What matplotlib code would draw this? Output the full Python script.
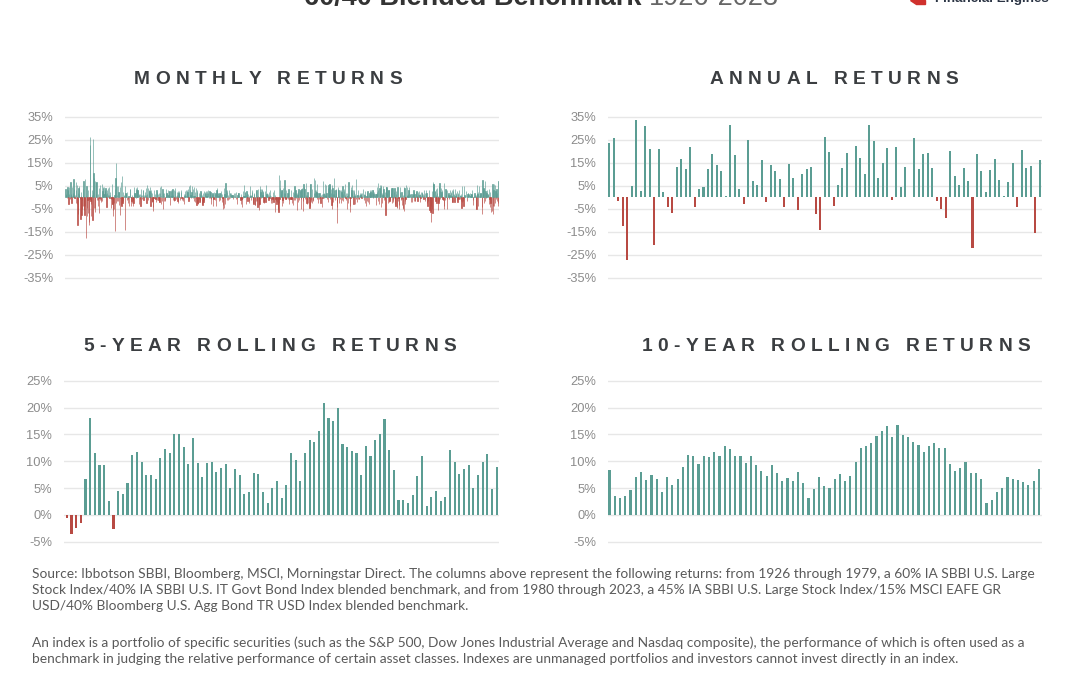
import matplotlib as mpl
mpl.use('Agg')
import matplotlib.pyplot as plt
from matplotlib.font_manager import FontProperties, findfont, get_font
from matplotlib.patches import Polygon
import numpy as np

TEAL = '#5b9d93'
RED = '#b84a43'
GRID = '#e7e7e7'
TICK = '#8c8c8c'
HEAD = '#3b3e41'

# monthly returns (%), one row per year 1927-2023, read/estimated from the chart
monthly_returns = [
    [0.0, 3.5, 0.9, 1.4, 3.8, -0.3, 4.5, 3.3, 3.2, -2.7, 4.6, 1.6],
    [-0.2, -0.9, 6.6, 1.4, 0.9, -2.3, 0.6, 4.5, 1.7, 1.0, 7.8, 0.5],
    [3.5, -0.1, -0.1, 1.2, -2.4, 6.6, 3.0, 5.5, -2.8, -11.8, -7.2, 1.8],
    [4.0, 1.6, 5.0, -0.3, -0.5, -9.6, 2.5, 0.6, -7.6, -5.0, -1.0, -3.6],
    [3.7, 7.0, -3.7, -5.7, -7.5, 8.1, -3.6, 0.5, -17.5, 5.1, -4.8, -8.0],
    [-1.0, 3.2, -6.6, -10.5, -11.9, -0.8, 22.8, 26.0, -1.4, -8.0, -2.7, 3.0],
    [0.9, -9.7, 2.4, 25.3, 10.7, 8.3, -4.5, 7.1, -6.4, -4.6, 6.7, 1.5],
    [6.6, -1.1, 0.3, -1.1, -3.8, 1.6, -6.6, 4.1, -0.1, -1.0, 5.4, 0.3],
    [-2.0, -1.2, -1.6, 6.0, 2.7, 4.0, 4.5, 1.6, 1.6, 4.7, 3.0, 2.8],
    [4.2, 1.6, 0.6, -4.4, 3.3, 2.0, 4.2, 0.9, 0.3, 4.6, 1.0, -0.1],
    [2.4, 1.1, -0.5, -4.7, -0.3, -2.8, 6.0, -2.8, -8.3, -5.7, -4.9, -2.5],
    [1.0, 3.6, -14.6, 8.6, -2.4, 14.9, 4.9, -1.5, 1.0, 4.8, -1.4, 2.5],
    [-3.4, 2.5, -7.5, -0.2, 4.4, -3.2, 6.5, -3.8, 9.2, -0.5, -2.3, 2.2],
    [-1.5, 0.8, 1.0, 0.1, -14.0, 4.8, 2.0, 2.0, 1.4, 2.2, -1.0, 0.3],
    [-2.3, -0.8, 0.7, -3.6, 0.7, 3.5, 3.5, 0.1, -0.4, -3.8, -1.6, -2.3],
    [1.0, -1.2, -3.6, -2.3, 4.7, 1.4, 2.1, 1.0, 1.7, 4.0, -0.2, 3.0],
    [4.4, 3.6, 3.3, 0.2, 3.3, 1.4, -2.9, 1.1, 1.5, -0.6, -3.6, 3.8],
    [1.0, 0.3, 1.2, -0.6, 3.2, 3.4, -1.0, 1.0, 0.1, 0.2, 0.9, 2.4],
    [1.1, 4.1, -2.5, 5.2, 1.3, 0.1, -1.0, 4.0, 3.0, 2.3, 2.7, 0.9],
    [4.3, -3.8, 3.2, 2.5, 1.9, -2.1, -1.4, -4.2, -5.9, -0.4, -0.1, 3.4],
    [1.6, -0.5, -0.8, -2.1, 0.1, 3.3, 2.3, -1.1, -0.4, 1.6, -1.0, 1.9],
    [-2.2, -2.2, 4.6, 1.9, 5.0, 0.4, -3.1, 0.3, -1.6, 3.7, -5.0, 2.0],
    [0.5, -1.6, 2.0, -1.0, -1.6, 0.2, 3.6, 1.6, 1.7, 1.8, 1.1, 3.0],
    [1.2, 1.0, 0.7, 2.8, 2.8, -3.2, 0.7, 2.8, 3.4, 0.5, 1.2, 3.0],
    [3.7, 1.0, -1.0, 3.0, -1.7, -1.3, 4.1, 2.8, 0.1, -0.9, 0.5, 2.4],
    [1.1, -1.8, 2.9, -2.5, 2.1, 2.8, 1.1, -0.4, -1.1, 0.1, 3.4, 2.2],
    [-0.4, -0.1, -1.2, -1.5, 0.1, -0.8, 1.6, -2.9, 0.6, 2.9, 1.6, 0.6],
    [3.3, 0.8, 2.3, 3.0, 2.4, 0.5, 3.5, -1.7, 5.0, -0.8, 5.3, 3.2],
    [1.0, 1.1, -0.1, 2.3, 0.4, 4.9, 3.6, -0.2, 0.7, -1.7, 4.5, 0.8],
    [-1.9, 2.4, 4.2, -0.1, -3.5, 2.3, 3.0, -2.3, -2.9, 0.2, -0.6, 2.1],
    [-2.1, -1.7, 1.3, 2.6, 2.5, 0.1, 1.0, -2.9, -3.4, -1.9, 1.9, -1.9],
    [2.8, -1.0, 1.9, 2.2, 1.4, 1.8, 2.6, 0.6, 2.9, 1.7, 1.8, 3.2],
    [0.3, 0.3, -0.1, 2.6, 1.3, -0.2, 2.2, -0.8, -2.9, 0.8, 1.3, 1.9],
    [-3.9, 1.3, -0.6, -0.8, 2.2, 1.6, -1.2, 1.8, -3.6, 0.2, 3.0, 3.1],
    [4.0, 2.0, 1.8, 0.4, 1.6, -1.6, 2.1, 1.7, -1.0, 1.9, 2.8, 0.1],
    [-2.2, 1.3, -0.1, -3.5, -4.9, -4.5, 4.0, 1.4, -2.7, 0.6, 6.3, 1.0],
    [3.2, -1.3, 2.3, 3.0, 1.2, -1.0, 0.0, 3.2, -0.5, 2.0, -0.4, 1.7],
    [1.7, 0.9, 1.0, 0.5, 1.1, 1.1, 1.2, -0.6, 1.9, 0.6, 0.2, 0.4],
    [2.1, 0.2, -0.8, 2.2, -0.2, -2.9, 1.0, 1.7, 2.1, 1.8, 0.0, 0.6],
    [0.3, -0.8, -1.1, 1.3, -2.8, -0.8, -0.8, -4.3, -0.3, 2.8, 0.6, 0.3],
    [5.5, 0.5, 2.5, 2.5, -2.7, 1.0, 2.8, -0.3, 2.0, -1.7, 0.3, 1.6],
    [-2.4, -1.6, 0.7, 5.0, 1.0, 0.8, -1.0, 1.1, 2.4, 0.8, 3.2, -2.6],
    [-0.6, -2.7, 1.9, 1.3, 0.0, -3.4, -3.5, 2.6, -1.7, 3.0, -1.8, -0.8],
    [-4.3, 3.8, 0.4, -5.3, -3.3, -2.9, 5.0, 3.5, 2.5, -0.4, 3.6, 3.8],
    [3.2, 1.0, 2.8, 2.3, -2.0, -0.2, -2.5, 2.9, -0.2, -2.0, 0.5, 5.3],
    [1.4, 1.9, 0.5, 0.5, 1.3, -1.2, 0.4, 2.4, -0.2, 0.9, 3.1, 0.8],
    [-1.1, -2.3, -0.1, -2.4, -0.7, -0.3, 2.3, -1.9, 3.0, 0.2, -6.2, 1.0],
    [-0.5, 0.0, -1.7, -2.8, -2.0, -0.7, -4.5, -5.5, -6.3, 9.5, -2.5, -0.7],
    [7.6, 4.0, 1.6, 2.7, 3.3, 3.3, -3.7, -1.2, -2.3, 4.2, 2.0, -0.4],
    [7.5, -0.3, 2.0, -0.5, -0.5, 3.0, -0.3, 0.8, 1.9, -0.8, 0.9, 3.5],
    [-2.8, -1.0, -0.6, 0.3, -0.6, 3.0, -0.7, -0.9, 0.1, -2.5, 2.4, 0.1],
    [-3.4, -1.1, 1.7, 4.9, 0.5, -1.1, 3.3, 2.1, -0.4, -5.5, 1.7, 1.0],
    [2.6, -2.0, 3.6, 0.2, -1.2, 2.8, 0.7, 3.2, -0.5, -5.2, 3.7, 1.2],
    [4.2, -1.7, -6.1, 5.7, 4.5, 2.9, 3.5, -0.8, 0.2, 1.0, 6.1, -2.5],
    [-2.7, 1.0, 2.5, -2.4, 0.6, -0.3, -0.3, -4.5, -3.8, 5.7, 5.6, -2.0],
    [-1.0, -2.5, 0.0, 3.5, -1.2, -1.5, 0.3, 8.2, 1.9, 7.4, 3.4, 1.8],
    [3.0, 2.3, 2.2, 5.6, -0.9, 2.1, -2.3, 0.7, 1.8, -0.8, 2.1, -0.1],
    [-0.2, -2.6, 0.9, 0.3, -4.0, 1.6, -0.4, 7.3, 0.3, 1.6, -0.2, 1.9],
    [5.8, 1.4, 0.5, 0.5, 5.2, 1.7, 0.2, -0.6, -2.2, 4.0, 5.3, 4.5],
    [0.9, 6.0, 5.4, -0.5, 3.7, 1.8, -3.4, 5.4, -5.0, 4.1, 1.6, -2.0],
    [8.4, 3.3, 1.5, -1.0, 0.4, 3.0, 3.5, 2.1, -2.5, -11.2, -4.0, 4.6],
    [3.8, 3.0, -2.3, 0.8, 0.2, 3.4, -0.5, -2.4, 3.2, 2.4, -1.0, 1.2],
    [4.9, -1.6, 1.6, 3.5, 2.7, 0.3, 6.0, 1.2, -0.2, -1.2, 1.7, 1.7],
    [-5.0, 0.7, 1.6, -2.4, 6.7, -0.3, -0.2, -6.3, -3.6, -0.2, 4.7, 2.2],
    [3.3, 5.4, 1.8, 0.5, 3.0, -3.1, 3.2, 2.2, 0.6, 1.3, -2.8, 7.9],
    [-0.8, 0.6, -2.0, 1.0, 1.2, -0.8, 3.4, -0.9, 1.1, -0.9, 1.8, 1.1],
    [0.9, 1.6, 1.7, -0.1, 1.9, 0.7, 0.1, 3.8, 0.0, 1.4, -1.1, 1.0],
    [2.8, -2.6, -3.6, 0.6, 0.6, -1.7, 2.3, 2.6, -2.1, 0.8, -2.8, 1.2],
    [1.9, 3.2, 2.5, 2.3, 3.1, 1.6, 2.5, 0.2, 3.1, -0.1, 3.0, 1.4],
    [2.2, 0.2, 0.4, 0.8, 1.4, 0.3, -3.2, 1.5, 4.4, 2.3, 6.3, -1.5],
    [3.2, 0.2, -2.9, 3.9, 5.3, 3.3, 5.3, -4.3, 5.0, -2.5, 2.0, 1.2],
    [1.4, 5.0, 3.6, 0.9, -1.0, 2.4, -0.6, -7.8, 4.3, 4.5, 4.6, 3.9],
    [2.0, -2.4, 3.0, 3.2, -1.9, 3.1, -1.5, -0.3, -1.2, 3.8, 1.9, 4.1],
    [-2.6, 0.4, 4.2, -2.0, -1.3, 2.4, -0.4, 4.2, -2.8, -0.7, -3.9, 1.6],
    [2.6, -4.6, -4.1, 4.7, 0.3, -1.5, -0.2, -3.2, -5.1, 2.2, 4.3, 0.5],
    [-1.0, -0.6, 2.3, -3.2, -0.5, -4.5, -5.2, 1.0, -5.8, 4.3, 4.0, -2.8],
    [-1.4, -0.6, 0.1, 5.4, 4.3, 1.2, 0.6, 1.5, 0.9, 3.3, 0.8, 4.3],
    [1.4, 1.5, 0.1, -2.0, 0.3, 1.4, -2.0, 0.6, 1.3, 1.5, 3.3, 2.4],
    [-1.5, 1.6, -1.4, -1.4, 2.3, 0.3, 2.6, 0.6, 0.8, -1.8, 2.4, 1.3],
    [2.8, 0.0, 1.2, 1.4, -2.2, -0.1, 0.6, 2.3, 1.7, 2.5, 2.0, 1.3],
    [0.8, -0.5, 1.0, 3.2, 2.0, -0.8, -1.4, 0.9, 3.2, 2.0, -2.5, -0.7],
    [-3.7, -1.5, -0.9, 3.3, 0.7, -5.4, -0.8, 0.3, -6.4, -10.9, -3.7, 2.9],
    [-5.1, -6.8, 5.6, 6.8, 5.9, 0.1, 5.7, 2.7, 2.7, -1.5, 3.6, 1.0],
    [-2.4, 1.8, 4.2, 0.6, -5.3, -2.5, 5.1, -1.7, 6.3, 2.6, -0.9, 4.1],
    [1.5, 2.3, 0.0, 3.3, -0.9, -1.2, -1.1, -3.7, -4.9, 6.4, -1.2, 0.4],
    [3.6, 3.2, 1.5, -0.5, -5.1, 3.2, 1.2, 1.6, 2.0, -0.5, 0.8, 1.2],
    [3.0, 0.6, 2.0, 2.3, 0.5, -2.2, 3.3, -2.2, 3.5, 2.9, 1.5, 1.2],
    [-2.1, 3.6, 0.2, 0.6, 1.7, 1.3, -1.3, 2.6, -2.1, 1.3, 1.7, -0.6],
    [0.2, 3.4, -0.9, 1.2, 0.4, -1.8, 1.3, -4.5, -2.1, 5.1, -0.3, -1.4],
    [-3.6, -0.4, 5.1, 0.9, 0.6, 0.0, 2.7, 0.2, 0.3, -1.8, 0.6, 1.3],
    [1.7, 2.0, 0.6, 1.3, 1.5, 0.4, 1.7, 0.5, 1.3, 1.4, 1.6, 0.9],
    [3.3, -3.2, -1.2, 0.3, 0.8, 0.2, 2.1, 1.1, 0.2, -5.2, 1.2, -4.9],
    [5.4, 2.0, 1.6, 2.5, -3.9, 4.9, 0.5, 0.2, 1.2, 1.7, 1.8, 2.1],
    [0.3, -4.3, -7.4, 7.6, 3.1, 1.9, 4.0, 3.7, -2.4, -1.7, 6.9, 2.7],
    [-0.3, 0.9, 1.8, 3.3, 0.8, 1.1, 1.3, 1.4, -3.0, 3.6, -0.8, 2.5],
    [-4.2, -2.4, 0.1, -6.4, 0.1, -6.1, 5.8, -3.6, -7.3, 3.4, 5.9, -3.6],
    [5.3, -2.6, 2.9, 1.2, -0.5, 3.7, 2.1, -1.7, -3.9, -2.3, 7.3, 4.6],
]

annual_returns = [
    23.8, 25.7, -1.7, -12.5, -27.0, 5.0, 33.6, 2.6, 31.0, 21.0, -20.8, 21.0, 2.3,
    -4.2, -7.0, 13.0, 16.7, 12.4, 22.0, -4.2, 3.8, 4.5, 12.4, 18.8, 14.1, 11.5,
    0.6, 31.3, 18.2, 3.8, -2.9, 24.7, 6.9, 5.2, 16.3, -2.2, 13.9, 11.5, 7.9,
    -4.2, 14.6, 8.4, -5.3, 10.1, 12.3, 13.1, -7.2, -14.0, 26.1, 19.6, -3.9,
    5.2, 12.7, 19.2, 0.3, 22.5, 17.0, 10.0, 31.3, 24.5, 8.2, 14.9, 21.6, -1.3,
    21.8, 4.5, 13.3, 0.3, 25.7, 12.4, 18.9, 19.2, 12.7, -1.7, -5.0, -9.0, 19.9,
    9.4, 5.2, 12.6, 6.9, -22.0, 18.8, 11.3, 2.3, 11.7, 16.7, 7.6, 0.4, 6.5,
    14.9, -4.2, 20.6, 12.8, 13.4, -15.4, 16.3,
]

five_year_rolling = [
    -0.5, -3.5, -2.5, -1.6, 6.7, 18.0, 11.5, 9.3, 9.3, 2.6, -2.7, 4.5, 3.9,
    5.9, 11.2, 11.8, 9.9, 7.5, 7.5, 6.7, 10.6, 12.2, 11.5, 15.0, 15.0, 12.6,
    9.5, 14.3, 9.6, 7.0, 9.6, 9.9, 7.9, 8.7, 9.4, 5.1, 8.5, 7.5, 3.9, 4.3,
    7.8, 7.6, 4.2, 2.3, 5.0, 6.4, 3.1, 5.6, 11.5, 10.2, 6.4, 11.5, 14.0, 13.5,
    15.7, 20.8, 18.0, 17.4, 19.9, 13.2, 12.7, 11.9, 11.6, 7.5, 12.9, 11.0,
    14.0, 15.1, 17.8, 12.1, 8.3, 2.7, 2.8, 2.3, 3.7, 7.3, 10.9, 1.7, 3.3, 4.5,
    2.5, 3.3, 12.0, 9.8, 7.6, 8.5, 9.2, 5.1, 7.5, 9.9, 11.3, 4.8, 8.9,
]

ten_year_rolling = [
    8.4, 3.5, 3.2, 3.5, 4.7, 7.1, 7.9, 6.5, 7.5, 6.7, 4.3, 7.1, 5.6, 6.6, 9.0,
    11.2, 11.0, 9.4, 11.0, 10.7, 11.7, 10.9, 12.9, 12.2, 10.9, 11.0, 9.6, 11.0,
    9.2, 8.2, 7.3, 9.2, 7.8, 6.3, 6.8, 6.4, 7.9, 5.9, 3.1, 4.8, 7.0, 5.3, 5.0,
    6.7, 7.6, 6.3, 7.3, 9.8, 12.4, 12.9, 13.4, 14.7, 15.7, 16.6, 14.5, 16.8,
    14.9, 14.5, 13.5, 13.0, 11.8, 12.9, 13.4, 12.5, 12.5, 9.5, 8.2, 8.8, 9.8,
    7.8, 7.8, 6.7, 2.3, 2.8, 4.2, 5.0, 7.0, 6.7, 6.5, 6.1, 5.5, 6.3, 8.5,
]

wide_ticks = [35, 25, 15, 5, -5, -15, -25, -35]
narrow_ticks = [25, 20, 15, 10, 5, 0, -5]

panel_titles = ['MONTHLY RETURNS', 'ANNUAL RETURNS',
                '5-YEAR ROLLING RETURNS', '10-YEAR ROLLING RETURNS']

footnote_1 = ("Source: Ibbotson SBBI, Bloomberg, MSCI, Morningstar Direct. The columns above represent the "
              "following returns: from 1926 through 1979, a 60% IA SBBI U.S. Large\n"
              "Stock Index/40% IA SBBI U.S. IT Govt Bond Index blended benchmark, and from 1980 through 2023, "
              "a 45% IA SBBI U.S. Large Stock Index/15% MSCI EAFE GR\n"
              "USD/40% Bloomberg U.S. Agg Bond TR USD Index blended benchmark.")
footnote_2 = ("An index is a portfolio of specific securities (such as the S&P 500, Dow Jones Industrial Average "
              "and Nasdaq composite), the performance of which is often used as a\n"
              "benchmark in judging the relative performance of certain asset classes. Indexes are unmanaged "
              "portfolios and investors cannot invest directly in an index.")

W, H = 1080, 675
fig = plt.figure(figsize=(W / 100, H / 100), dpi=100)
fig.patch.set_facecolor('white')


def px_axes(left, top, right, bottom):
    return fig.add_axes([left / W, 1 - bottom / H, (right - left) / W, (bottom - top) / H])


def draw_panel(ax, values, ticks, ylim, xlim, width, edge=0):
    x = np.arange(len(values))
    colors = [TEAL if v >= 0 else RED for v in values]
    ax.bar(x, values, width=width, color=colors, edgecolor=colors, linewidth=edge)
    ax.set_ylim(ylim)
    ax.set_xlim(xlim)
    ax.set_yticks(ticks)
    ax.set_yticklabels([f'{t}%' for t in ticks], family='Liberation Sans')
    ax.set_xticks([])
    ax.grid(axis='y', color=GRID, linewidth=1)
    ax.set_axisbelow(True)
    for s in ax.spines.values():
        s.set_visible(False)
    ax.tick_params(axis='y', length=0, pad=8.5, labelsize=9.3, labelcolor=TICK)


def tracked_title(text, xc, baseline, size=13.8, tracking=5.4):
    prop = FontProperties(family='Liberation Sans', weight='bold', size=size)
    font = get_font(findfont(prop))
    font.set_size(size, fig.dpi)
    adv = [font.load_char(ord(c)).linearHoriAdvance / 65536 for c in text]
    total = sum(adv) + tracking * (len(text) - 1)
    x = xc - total / 2
    for c, a in zip(text, adv):
        if c != ' ':
            fig.text(x / W, 1 - baseline / H, c, fontproperties=prop, color=HEAD,
                     ha='left', va='baseline')
        x += a + tracking


monthly = [v for year in monthly_returns for v in year]

ax1 = px_axes(65, 114.4, 499, 280.3)
draw_panel(ax1, monthly, wide_ticks, (-36, 36), (-0.5, len(monthly) - 0.5), 0.6, edge=0.45)
ax2 = px_axes(608, 114.4, 1042, 280.3)
draw_panel(ax2, annual_returns, wide_ticks, (-36, 36), (-0.3, len(annual_returns) - 0.5), 0.45)
ax3 = px_axes(64, 378, 499, 544.4)
draw_panel(ax3, five_year_rolling, narrow_ticks, (-5.5, 25.5), (-0.6, len(five_year_rolling) - 0.5), 0.45)
ax4 = px_axes(608, 378, 1042, 544.4)
draw_panel(ax4, ten_year_rolling, narrow_ticks, (-5.5, 25.5), (-0.3, len(ten_year_rolling) - 0.4), 0.42)

tracked_title(panel_titles[0], 268, 84)
tracked_title(panel_titles[1], 834, 84)
tracked_title(panel_titles[2], 270, 351)
tracked_title(panel_titles[3], 836, 351)

# page title and logo, clipped at the top edge as in the source
fig.text(641 / W, 1 - 5 / H, '60/40 Blended Benchmark', ha='right', va='baseline',
         family='Liberation Sans', weight='bold', size=19.5, color='#333333')
fig.text(649 / W, 1 - 5 / H, '1926-2023', ha='left', va='baseline',
         family='Liberation Sans', size=19.5, color='#666666')
fig.text(935 / W, 1 - 2 / H, 'Financial Engines', ha='left', va='baseline',
         family='Liberation Sans', weight='bold', size=9.6, color='#2b3444')
fig.patches.append(Polygon([[910 / W, 1], [925 / W, 1], [925 / W, 1 - 4 / H], [916 / W, 1 - 4 / H]],
                           closed=True, transform=fig.transFigure, color='#d0312d'))

fig.text(32 / W, 1 - 568.5 / H, footnote_1, ha='left', va='top', family='Lato',
         size=9.95, color='#5a5a5a', linespacing=1.39)
fig.text(32 / W, 1 - 636.5 / H, footnote_2, ha='left', va='top', family='Lato',
         size=9.95, color='#5a5a5a', linespacing=1.39)

fig.savefig('out.png', dpi=100, facecolor='white')
